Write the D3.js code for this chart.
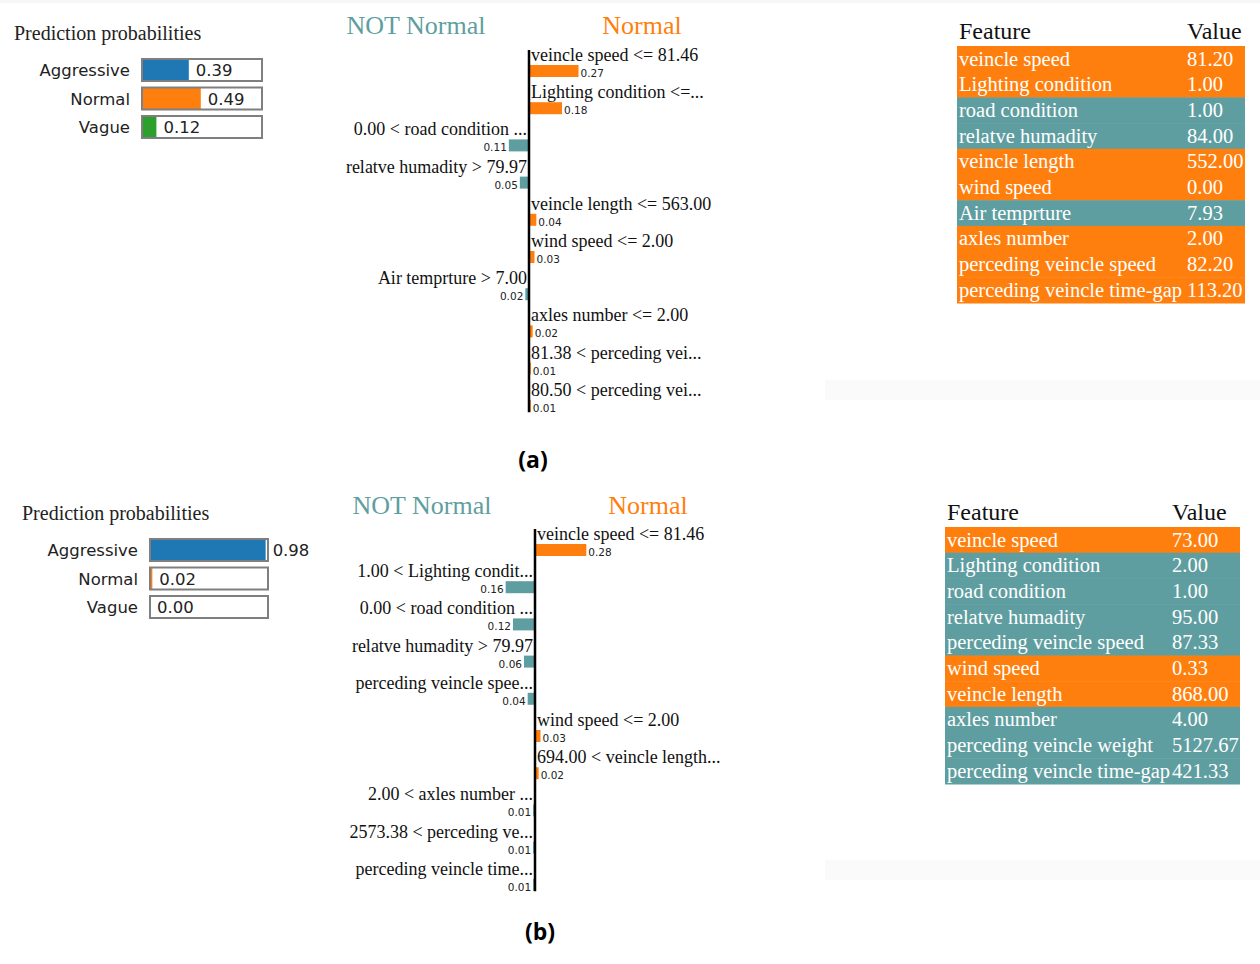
<!DOCTYPE html>
<html><head><meta charset="utf-8">
<script src="https://cdn.jsdelivr.net/npm/d3@7"></script>
<style>body{margin:0;background:#fff}</style>
</head><body>
<svg id="chart" width="1260" height="964"></svg>
<script>
// ---------- data ----------
const classNames = ["Aggressive", "Normal", "Vague"];
const classColors = ["#1f77b4", "#ff7f0e", "#2ca02c"];
const probsA = [0.39, 0.49, 0.12];
const probsB = [0.98, 0.02, 0.00];

const featLabelsA = ["veincle speed <= 81.46", "Lighting condition <=...", "0.00 < road condition ...",
  "relatve humadity > 79.97", "veincle length <= 563.00", "wind speed <= 2.00", "Air temprture > 7.00",
  "axles number <= 2.00", "81.38 < perceding vei...", "80.50 < perceding vei..."];
const featValuesA = [0.27, 0.18, -0.11, -0.05, 0.04, 0.03, -0.02, 0.02, 0.01, 0.01];

const featLabelsB = ["veincle speed <= 81.46", "1.00 < Lighting condit...", "0.00 < road condition ...",
  "relatve humadity > 79.97", "perceding veincle spee...", "wind speed <= 2.00", "694.00 < veincle length...",
  "2.00 < axles number ...", "2573.38 < perceding ve...", "perceding veincle time..."];
const featValuesB = [0.28, -0.16, -0.12, -0.06, -0.04, 0.03, 0.02, -0.01, -0.01, -0.01];

const tableFeaturesA = ["veincle speed", "Lighting condition", "road condition", "relatve humadity",
  "veincle length", "wind speed", "Air temprture", "axles number", "perceding veincle speed",
  "perceding veincle time-gap"];
const tableValuesA = ["81.20", "1.00", "1.00", "84.00", "552.00", "0.00", "7.93", "2.00", "82.20", "113.20"];
const tableSignsA = [1, 1, -1, -1, 1, 1, -1, 1, 1, 1];

const tableFeaturesB = ["veincle speed", "Lighting condition", "road condition", "relatve humadity",
  "perceding veincle speed", "wind speed", "veincle length", "axles number", "perceding veincle weight",
  "perceding veincle time-gap"];
const tableValuesB = ["73.00", "2.00", "1.00", "95.00", "87.33", "0.33", "868.00", "4.00", "5127.67", "421.33"];
const tableSignsB = [1, -1, -1, -1, -1, 1, 1, -1, -1, -1];

const posColor = "#ff7f0e", negColor = "#5f9ea0";
const serif = "'Liberation Serif','Times New Roman',serif";
const sans = "'DejaVu Sans',Tahoma,sans-serif";

const svg = d3.select("#chart");
svg.append("rect").attr("x", 0).attr("y", 0).attr("width", 1260).attr("height", 3).attr("fill", "#f7f7f7");

function drawPanel(c) {
  const g = svg.append("g");
  // faint background strip
  g.append("rect").attr("x", 825).attr("y", c.stripY).attr("width", 435).attr("height", 20).attr("fill", "#fafafa");

  // ---- prediction probabilities ----
  g.append("text").attr("x", c.titleX).attr("y", c.titleY).attr("font-family", serif)
    .attr("font-size", 20).attr("fill", "#222").text("Prediction probabilities");
  const py = d3.scaleBand().domain(classNames).range([c.probY, c.probY + 3 * 28.5 - 6.5])
    .paddingInner(6.5 / 28.5).paddingOuter(0);
  const px = d3.scaleLinear().domain([0, 1]).range([c.probX, c.probX + c.probW]);
  classNames.forEach((n, i) => {
    const p = c.probs[i];
    g.append("text").attr("x", c.probX - 12).attr("y", py(n) + py.bandwidth() / 2 + 6)
      .attr("text-anchor", "end").attr("font-family", sans).attr("font-size", 16.5).attr("fill", "#222").text(n);
    g.append("rect").attr("x", px(0)).attr("y", py(n)).attr("width", px(p) - px(0)).attr("height", py.bandwidth())
      .attr("fill", classColors[i]);
    g.append("rect").attr("x", px(0)).attr("y", py(n)).attr("width", c.probW).attr("height", py.bandwidth())
      .attr("fill", "none").attr("stroke", "#7f7f7f").attr("stroke-width", 2);
    g.append("text").attr("x", px(p) + 7).attr("y", py(n) + py.bandwidth() / 2 + 6)
      .attr("font-family", sans).attr("font-size", 16.5).attr("fill", "#222").text(p.toFixed(2));
  });

  // ---- explanation bars ----
  const n = c.labels.length;
  const ry = d3.scaleLinear().domain([0, n]).range([c.y0, c.y0 + n * 37.2]);
  const bx = d3.scaleLinear().domain([-0.3, 0.3]).range([c.axisX - 55, c.axisX + 55]);
  g.append("text").attr("x", c.axisX - 113).attr("y", c.headY).attr("text-anchor", "middle")
    .attr("font-family", serif).attr("font-size", 26).attr("fill", negColor).text("NOT Normal");
  g.append("text").attr("x", c.axisX + 113).attr("y", c.headY).attr("text-anchor", "middle")
    .attr("font-family", serif).attr("font-size", 26).attr("fill", posColor).text("Normal");
  c.labels.forEach((lab, i) => {
    const v = c.values[i];
    const pos = v > 0;
    const top = ry(i);
    g.append("text").attr("x", pos ? bx(0) + 2 : bx(0) - 2).attr("y", top + 12)
      .attr("text-anchor", pos ? "start" : "end").attr("font-family", serif).attr("font-size", 18)
      .attr("fill", "#111").text(lab);
    const x0 = Math.min(bx(0), bx(v)), w = Math.abs(bx(v) - bx(0));
    g.append("rect").attr("x", x0).attr("y", top + 16).attr("width", w).attr("height", 12)
      .attr("fill", pos ? posColor : negColor);
    g.append("text").attr("x", pos ? bx(v) + 2 : bx(v) - 2).attr("y", top + 28)
      .attr("text-anchor", pos ? "start" : "end").attr("font-family", sans).attr("font-size", 10.5)
      .attr("fill", "#222").text(Math.abs(v).toFixed(2));
  });
  g.append("line").attr("x1", bx(0)).attr("x2", bx(0)).attr("y1", ry(0) + 1).attr("y2", ry(n - 1) + 28.5)
    .attr("stroke", "#000").attr("stroke-width", 2.5);

  // ---- table ----
  const ty = d3.scaleLinear().domain([0, n]).range([c.tableY, c.tableY + n * 25.7]);
  g.append("text").attr("x", c.tableX + 2).attr("y", c.tableY - 7).attr("font-family", serif)
    .attr("font-size", 24).attr("fill", "#111").text("Feature");
  g.append("text").attr("x", c.valX).attr("y", c.tableY - 7).attr("font-family", serif)
    .attr("font-size", 24).attr("fill", "#111").text("Value");
  c.tFeat.forEach((f, i) => {
    g.append("rect").attr("x", c.tableX).attr("y", ty(i)).attr("width", c.tableW).attr("height", ty(i + 1) - ty(i) + 0.5)
      .attr("fill", c.tSign[i] > 0 ? posColor : negColor);
    g.append("text").attr("x", c.tableX + 2).attr("y", ty(i) + 19.5).attr("font-family", serif)
      .attr("font-size", 20.5).attr("fill", "#fff").text(f);
    g.append("text").attr("x", c.valX).attr("y", ty(i) + 19.5).attr("font-family", serif)
      .attr("font-size", 20.5).attr("fill", "#fff").text(c.tVal[i]);
  });

  // caption
  g.append("text").attr("x", c.capX).attr("y", c.capY).attr("text-anchor", "middle")
    .attr("font-family", "'Open Sans',Lato,sans-serif").attr("font-weight", "bold").attr("font-size", 23)
    .attr("fill", "#000").text(c.caption);
}

drawPanel({probs: probsA, titleX: 14, titleY: 40, probX: 142, probW: 120, probY: 59,
  labels: featLabelsA, values: featValuesA, axisX: 529, y0: 49, headY: 34,
  tFeat: tableFeaturesA, tVal: tableValuesA, tSign: tableSignsA, tableX: 957, tableW: 288, valX: 1187, tableY: 46,
  caption: "(a)", capX: 533, capY: 468, stripY: 380});
drawPanel({probs: probsB, titleX: 22, titleY: 520, probX: 150, probW: 118, probY: 539,
  labels: featLabelsB, values: featValuesB, axisX: 535, y0: 528, headY: 514,
  tFeat: tableFeaturesB, tVal: tableValuesB, tSign: tableSignsB, tableX: 945, tableW: 295, valX: 1172, tableY: 527,
  caption: "(b)", capX: 540, capY: 940, stripY: 860});
</script>
</body></html>
